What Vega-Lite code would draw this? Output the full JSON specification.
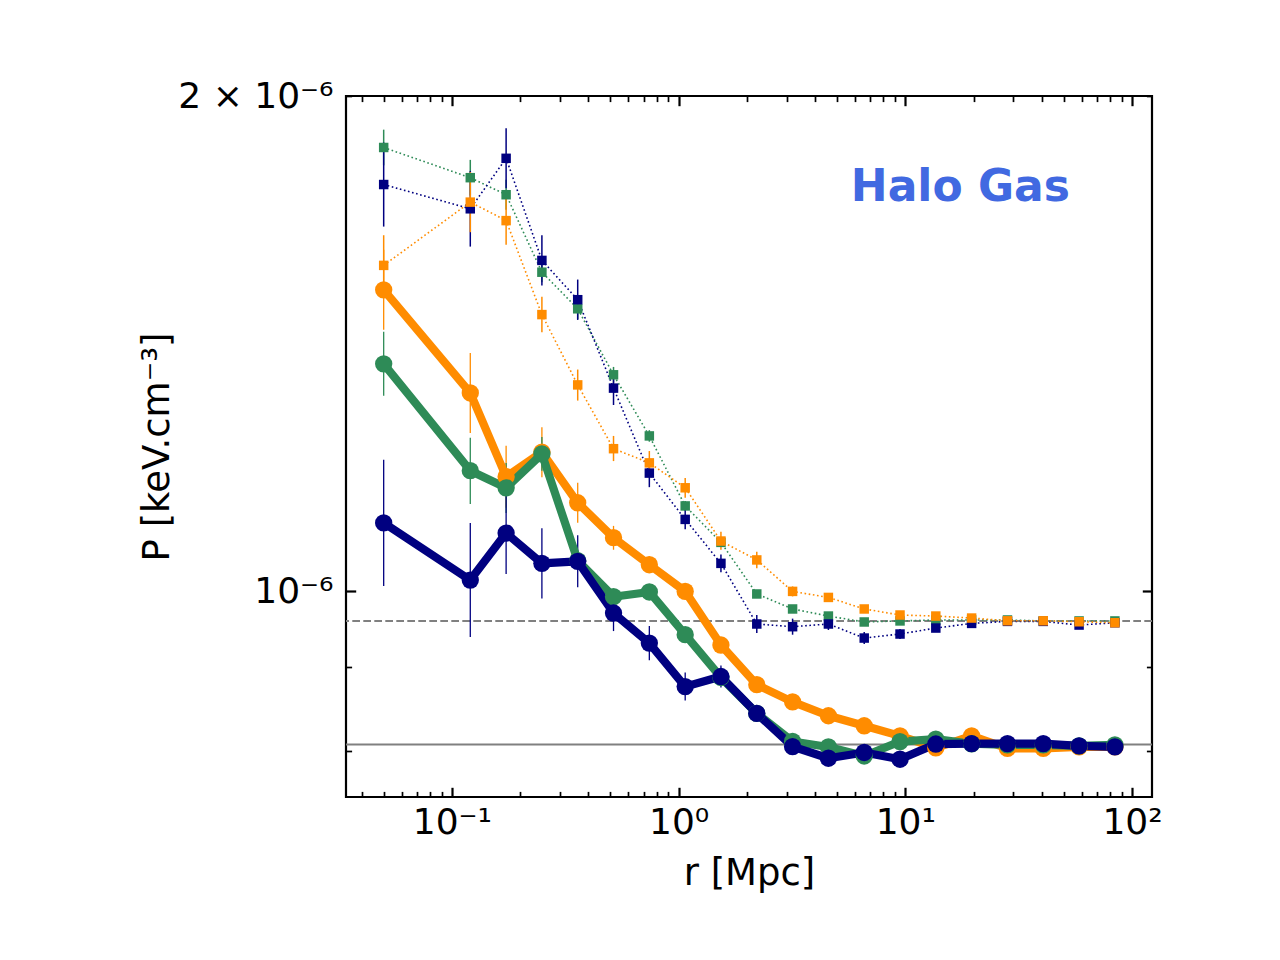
{
  "$schema": "https://vega.github.io/schema/vega-lite/v6.json",
  "autosize": {"type": "none"},
  "padding": {"left": 346, "top": 96, "right": 128, "bottom": 163},
  "width": 806,
  "height": 701,
  "background": "white",
  "config": {
    "font": "DejaVu Sans",
    "view": {"stroke": "black", "strokeWidth": 2.2},
    "axis": {"domain": false, "grid": false, "tickColor": "black", "labelColor": "black", "titleColor": "black", "titleFontWeight": "normal", "labelFlush": false, "labelOverlap": false, "labelBound": false}
  },
  "datasets": {
    "profiles": [
      {"r": 0.05, "P": 1.861e-6, "lo": 1.815e-6, "hi": 1.908e-6, "run": "B", "group": "g1"},
      {"r": 0.1205, "P": 1.784e-6, "lo": 1.740e-6, "hi": 1.829e-6, "run": "B", "group": "g1"},
      {"r": 0.1734, "P": 1.742e-6, "lo": 1.706e-6, "hi": 1.779e-6, "run": "B", "group": "g1"},
      {"r": 0.2494, "P": 1.563e-6, "lo": 1.541e-6, "hi": 1.585e-6, "run": "B", "group": "g1"},
      {"r": 0.3588, "P": 1.485e-6, "lo": 1.464e-6, "hi": 1.506e-6, "run": "B", "group": "g1"},
      {"r": 0.5162, "P": 1.354e-6, "lo": 1.339e-6, "hi": 1.369e-6, "run": "B", "group": "g1"},
      {"r": 0.7427, "P": 1.243e-6, "lo": 1.233e-6, "hi": 1.253e-6, "run": "B", "group": "g1"},
      {"r": 1.069, "P": 1.127e-6, "lo": 1.119e-6, "hi": 1.135e-6, "run": "B", "group": "g1"},
      {"r": 1.537, "P": 1.071e-6, "lo": 1.065e-6, "hi": 1.077e-6, "run": "B", "group": "g1"},
      {"r": 2.212, "P": 0.9964e-6, "lo": 0.9922e-6, "hi": 1.0006e-6, "run": "B", "group": "g1"},
      {"r": 3.182, "P": 0.9757e-6, "lo": 0.9716e-6, "hi": 0.9798e-6, "run": "B", "group": "g1"},
      {"r": 4.578, "P": 0.9661e-6, "lo": 0.9634e-6, "hi": 0.9688e-6, "run": "B", "group": "g1"},
      {"r": 6.587, "P": 0.9581e-6, "lo": 0.9554e-6, "hi": 0.9608e-6, "run": "B", "group": "g1"},
      {"r": 9.476, "P": 0.9595e-6, "lo": 0.9568e-6, "hi": 0.9622e-6, "run": "B", "group": "g1"},
      {"r": 13.63, "P": 0.9608e-6, "lo": 0.9581e-6, "hi": 0.9635e-6, "run": "B", "group": "g1"},
      {"r": 19.61, "P": 0.9608e-6, "lo": 0.9581e-6, "hi": 0.9635e-6, "run": "B", "group": "g1"},
      {"r": 28.22, "P": 0.9608e-6, "lo": 0.9581e-6, "hi": 0.9635e-6, "run": "B", "group": "g1"},
      {"r": 40.6, "P": 0.9595e-6, "lo": 0.9568e-6, "hi": 0.9622e-6, "run": "B", "group": "g1"},
      {"r": 58.41, "P": 0.9595e-6, "lo": 0.9568e-6, "hi": 0.9622e-6, "run": "B", "group": "g1"},
      {"r": 84.03, "P": 0.9595e-6, "lo": 0.9568e-6, "hi": 0.9622e-6, "run": "B", "group": "g1"},

      {"r": 0.05, "P": 1.767e-6, "lo": 1.666e-6, "hi": 1.874e-6, "run": "C", "group": "g1"},
      {"r": 0.1205, "P": 1.708e-6, "lo": 1.620e-6, "hi": 1.801e-6, "run": "C", "group": "g1"},
      {"r": 0.1734, "P": 1.833e-6, "lo": 1.758e-6, "hi": 1.912e-6, "run": "C", "group": "g1"},
      {"r": 0.2494, "P": 1.589e-6, "lo": 1.534e-6, "hi": 1.646e-6, "run": "C", "group": "g1"},
      {"r": 0.3588, "P": 1.504e-6, "lo": 1.462e-6, "hi": 1.547e-6, "run": "C", "group": "g1"},
      {"r": 0.5162, "P": 1.329e-6, "lo": 1.298e-6, "hi": 1.361e-6, "run": "C", "group": "g1"},
      {"r": 0.7427, "P": 1.180e-6, "lo": 1.157e-6, "hi": 1.203e-6, "run": "C", "group": "g1"},
      {"r": 1.069, "P": 1.106e-6, "lo": 1.091e-6, "hi": 1.122e-6, "run": "C", "group": "g1"},
      {"r": 1.537, "P": 1.040e-6, "lo": 1.027e-6, "hi": 1.053e-6, "run": "C", "group": "g1"},
      {"r": 2.212, "P": 0.9554e-6, "lo": 0.9435e-6, "hi": 0.9675e-6, "run": "C", "group": "g1"},
      {"r": 3.182, "P": 0.9518e-6, "lo": 0.9412e-6, "hi": 0.9626e-6, "run": "C", "group": "g1"},
      {"r": 4.578, "P": 0.9554e-6, "lo": 0.9474e-6, "hi": 0.9634e-6, "run": "C", "group": "g1"},
      {"r": 6.587, "P": 0.9368e-6, "lo": 0.9289e-6, "hi": 0.9447e-6, "run": "C", "group": "g1"},
      {"r": 9.476, "P": 0.9421e-6, "lo": 0.9355e-6, "hi": 0.9487e-6, "run": "C", "group": "g1"},
      {"r": 13.63, "P": 0.9500e-6, "lo": 0.9447e-6, "hi": 0.9553e-6, "run": "C", "group": "g1"},
      {"r": 19.61, "P": 0.9562e-6, "lo": 0.9522e-6, "hi": 0.9602e-6, "run": "C", "group": "g1"},
      {"r": 28.22, "P": 0.9589e-6, "lo": 0.9549e-6, "hi": 0.9629e-6, "run": "C", "group": "g1"},
      {"r": 40.6, "P": 0.9589e-6, "lo": 0.9549e-6, "hi": 0.9629e-6, "run": "C", "group": "g1"},
      {"r": 58.41, "P": 0.9540e-6, "lo": 0.9500e-6, "hi": 0.9580e-6, "run": "C", "group": "g1"},
      {"r": 84.03, "P": 0.9571e-6, "lo": 0.9531e-6, "hi": 0.9611e-6, "run": "C", "group": "g1"},

      {"r": 0.05, "P": 1.578e-6, "lo": 1.513e-6, "hi": 1.646e-6, "run": "A", "group": "g1"},
      {"r": 0.1205, "P": 1.724e-6, "lo": 1.653e-6, "hi": 1.798e-6, "run": "A", "group": "g1"},
      {"r": 0.1734, "P": 1.680e-6, "lo": 1.624e-6, "hi": 1.737e-6, "run": "A", "group": "g1"},
      {"r": 0.2494, "P": 1.473e-6, "lo": 1.437e-6, "hi": 1.510e-6, "run": "A", "group": "g1"},
      {"r": 0.3588, "P": 1.335e-6, "lo": 1.306e-6, "hi": 1.364e-6, "run": "A", "group": "g1"},
      {"r": 0.5162, "P": 1.221e-6, "lo": 1.200e-6, "hi": 1.243e-6, "run": "A", "group": "g1"},
      {"r": 0.7427, "P": 1.197e-6, "lo": 1.177e-6, "hi": 1.217e-6, "run": "A", "group": "g1"},
      {"r": 1.069, "P": 1.156e-6, "lo": 1.140e-6, "hi": 1.172e-6, "run": "A", "group": "g1"},
      {"r": 1.537, "P": 1.073e-6, "lo": 1.060e-6, "hi": 1.087e-6, "run": "A", "group": "g1"},
      {"r": 2.212, "P": 1.045e-6, "lo": 1.033e-6, "hi": 1.057e-6, "run": "A", "group": "g1"},
      {"r": 3.182, "P": 1.000e-6, "lo": 0.993e-6, "hi": 1.007e-6, "run": "A", "group": "g1"},
      {"r": 4.578, "P": 0.9916e-6, "lo": 0.9860e-6, "hi": 0.9972e-6, "run": "A", "group": "g1"},
      {"r": 6.587, "P": 0.9757e-6, "lo": 0.9716e-6, "hi": 0.9798e-6, "run": "A", "group": "g1"},
      {"r": 9.476, "P": 0.9675e-6, "lo": 0.9634e-6, "hi": 0.9716e-6, "run": "A", "group": "g1"},
      {"r": 13.63, "P": 0.9661e-6, "lo": 0.9634e-6, "hi": 0.9688e-6, "run": "A", "group": "g1"},
      {"r": 19.61, "P": 0.9634e-6, "lo": 0.9607e-6, "hi": 0.9661e-6, "run": "A", "group": "g1"},
      {"r": 28.22, "P": 0.9597e-6, "lo": 0.9570e-6, "hi": 0.9624e-6, "run": "A", "group": "g1"},
      {"r": 40.6, "P": 0.9597e-6, "lo": 0.9570e-6, "hi": 0.9624e-6, "run": "A", "group": "g1"},
      {"r": 58.41, "P": 0.9584e-6, "lo": 0.9557e-6, "hi": 0.9611e-6, "run": "A", "group": "g1"},
      {"r": 84.03, "P": 0.9571e-6, "lo": 0.9544e-6, "hi": 0.9598e-6, "run": "A", "group": "g1"},

      {"r": 0.05, "P": 1.525e-6, "lo": 1.442e-6, "hi": 1.613e-6, "run": "A", "group": "g2"},
      {"r": 0.1205, "P": 1.320e-6, "lo": 1.248e-6, "hi": 1.396e-6, "run": "A", "group": "g2"},
      {"r": 0.1734, "P": 1.174e-6, "lo": 1.124e-6, "hi": 1.226e-6, "run": "A", "group": "g2"},
      {"r": 0.2494, "P": 1.215e-6, "lo": 1.173e-6, "hi": 1.258e-6, "run": "A", "group": "g2"},
      {"r": 0.3588, "P": 1.132e-6, "lo": 1.101e-6, "hi": 1.164e-6, "run": "A", "group": "g2"},
      {"r": 0.5162, "P": 1.078e-6, "lo": 1.060e-6, "hi": 1.096e-6, "run": "A", "group": "g2"},
      {"r": 0.7427, "P": 1.038e-6, "lo": 1.026e-6, "hi": 1.050e-6, "run": "A", "group": "g2"},
      {"r": 1.069, "P": 1.000e-6, "lo": 0.992e-6, "hi": 1.008e-6, "run": "A", "group": "g2"},
      {"r": 1.537, "P": 0.9277e-6, "lo": 0.9225e-6, "hi": 0.9329e-6, "run": "A", "group": "g2"},
      {"r": 2.212, "P": 0.8776e-6, "lo": 0.8739e-6, "hi": 0.8813e-6, "run": "A", "group": "g2"},
      {"r": 3.182, "P": 0.8568e-6, "lo": 0.8532e-6, "hi": 0.8604e-6, "run": "A", "group": "g2"},
      {"r": 4.578, "P": 0.8403e-6, "lo": 0.8368e-6, "hi": 0.8438e-6, "run": "A", "group": "g2"},
      {"r": 6.587, "P": 0.8286e-6, "lo": 0.8263e-6, "hi": 0.8309e-6, "run": "A", "group": "g2"},
      {"r": 9.476, "P": 0.8170e-6, "lo": 0.8147e-6, "hi": 0.8193e-6, "run": "A", "group": "g2"},
      {"r": 13.63, "P": 0.8033e-6, "lo": 0.8011e-6, "hi": 0.8055e-6, "run": "A", "group": "g2"},
      {"r": 19.61, "P": 0.8170e-6, "lo": 0.8147e-6, "hi": 0.8193e-6, "run": "A", "group": "g2"},
      {"r": 28.22, "P": 0.8028e-6, "lo": 0.8006e-6, "hi": 0.8050e-6, "run": "A", "group": "g2"},
      {"r": 40.6, "P": 0.8028e-6, "lo": 0.8006e-6, "hi": 0.8050e-6, "run": "A", "group": "g2"},
      {"r": 58.41, "P": 0.8044e-6, "lo": 0.8022e-6, "hi": 0.8066e-6, "run": "A", "group": "g2"},
      {"r": 84.03, "P": 0.8044e-6, "lo": 0.8022e-6, "hi": 0.8066e-6, "run": "A", "group": "g2"},

      {"r": 0.05, "P": 1.375e-6, "lo": 1.315e-6, "hi": 1.438e-6, "run": "B", "group": "g2"},
      {"r": 0.1205, "P": 1.184e-6, "lo": 1.130e-6, "hi": 1.240e-6, "run": "B", "group": "g2"},
      {"r": 0.1734, "P": 1.156e-6, "lo": 1.116e-6, "hi": 1.197e-6, "run": "B", "group": "g2"},
      {"r": 0.2494, "P": 1.212e-6, "lo": 1.184e-6, "hi": 1.241e-6, "run": "B", "group": "g2"},
      {"r": 0.3588, "P": 1.044e-6, "lo": 1.030e-6, "hi": 1.059e-6, "run": "B", "group": "g2"},
      {"r": 0.5162, "P": 0.9926e-6, "lo": 0.9857e-6, "hi": 0.9995e-6, "run": "B", "group": "g2"},
      {"r": 0.7427, "P": 0.9992e-6, "lo": 0.9936e-6, "hi": 1.0048e-6, "run": "B", "group": "g2"},
      {"r": 1.069, "P": 0.9412e-6, "lo": 0.9359e-6, "hi": 0.9465e-6, "run": "B", "group": "g2"},
      {"r": 1.537, "P": 0.8865e-6, "lo": 0.8815e-6, "hi": 0.8915e-6, "run": "B", "group": "g2"},
      {"r": 2.212, "P": 0.8430e-6, "lo": 0.8395e-6, "hi": 0.8465e-6, "run": "B", "group": "g2"},
      {"r": 3.182, "P": 0.8106e-6, "lo": 0.8072e-6, "hi": 0.8140e-6, "run": "B", "group": "g2"},
      {"r": 4.578, "P": 0.8044e-6, "lo": 0.8010e-6, "hi": 0.8078e-6, "run": "B", "group": "g2"},
      {"r": 6.587, "P": 0.7943e-6, "lo": 0.7921e-6, "hi": 0.7965e-6, "run": "B", "group": "g2"},
      {"r": 9.476, "P": 0.8105e-6, "lo": 0.8082e-6, "hi": 0.8128e-6, "run": "B", "group": "g2"},
      {"r": 13.63, "P": 0.8132e-6, "lo": 0.8109e-6, "hi": 0.8155e-6, "run": "B", "group": "g2"},
      {"r": 19.61, "P": 0.8080e-6, "lo": 0.8057e-6, "hi": 0.8103e-6, "run": "B", "group": "g2"},
      {"r": 28.22, "P": 0.8067e-6, "lo": 0.8044e-6, "hi": 0.8090e-6, "run": "B", "group": "g2"},
      {"r": 40.6, "P": 0.8067e-6, "lo": 0.8044e-6, "hi": 0.8090e-6, "run": "B", "group": "g2"},
      {"r": 58.41, "P": 0.8056e-6, "lo": 0.8033e-6, "hi": 0.8079e-6, "run": "B", "group": "g2"},
      {"r": 84.03, "P": 0.8067e-6, "lo": 0.8044e-6, "hi": 0.8090e-6, "run": "B", "group": "g2"},

      {"r": 0.05, "P": 1.1005e-6, "lo": 1.0075e-6, "hi": 1.2021e-6, "run": "C", "group": "g2"},
      {"r": 0.1205, "P": 1.016e-6, "lo": 0.9381e-6, "hi": 1.1004e-6, "run": "C", "group": "g2"},
      {"r": 0.1734, "P": 1.085e-6, "lo": 1.0245e-6, "hi": 1.1492e-6, "run": "C", "group": "g2"},
      {"r": 0.2494, "P": 1.040e-6, "lo": 0.9902e-6, "hi": 1.0923e-6, "run": "C", "group": "g2"},
      {"r": 0.3588, "P": 1.043e-6, "lo": 1.0058e-6, "hi": 1.0817e-6, "run": "C", "group": "g2"},
      {"r": 0.5162, "P": 0.9702e-6, "lo": 0.9460e-6, "hi": 0.9949e-6, "run": "C", "group": "g2"},
      {"r": 0.7427, "P": 0.9302e-6, "lo": 0.9083e-6, "hi": 0.9526e-6, "run": "C", "group": "g2"},
      {"r": 1.069, "P": 0.8753e-6, "lo": 0.8583e-6, "hi": 0.8926e-6, "run": "C", "group": "g2"},
      {"r": 1.537, "P": 0.8877e-6, "lo": 0.8741e-6, "hi": 0.9015e-6, "run": "C", "group": "g2"},
      {"r": 2.212, "P": 0.8430e-6, "lo": 0.8377e-6, "hi": 0.8483e-6, "run": "C", "group": "g2"},
      {"r": 3.182, "P": 0.8048e-6, "lo": 0.8014e-6, "hi": 0.8082e-6, "run": "C", "group": "g2"},
      {"r": 4.578, "P": 0.7918e-6, "lo": 0.7885e-6, "hi": 0.7951e-6, "run": "C", "group": "g2"},
      {"r": 6.587, "P": 0.7982e-6, "lo": 0.7948e-6, "hi": 0.8016e-6, "run": "C", "group": "g2"},
      {"r": 9.476, "P": 0.7907e-6, "lo": 0.7874e-6, "hi": 0.7940e-6, "run": "C", "group": "g2"},
      {"r": 13.63, "P": 0.8077e-6, "lo": 0.8043e-6, "hi": 0.8111e-6, "run": "C", "group": "g2"},
      {"r": 19.61, "P": 0.8082e-6, "lo": 0.8059e-6, "hi": 0.8105e-6, "run": "C", "group": "g2"},
      {"r": 28.22, "P": 0.8082e-6, "lo": 0.8059e-6, "hi": 0.8105e-6, "run": "C", "group": "g2"},
      {"r": 40.6, "P": 0.8082e-6, "lo": 0.8059e-6, "hi": 0.8105e-6, "run": "C", "group": "g2"},
      {"r": 58.41, "P": 0.8056e-6, "lo": 0.8033e-6, "hi": 0.8079e-6, "run": "C", "group": "g2"},
      {"r": 84.03, "P": 0.8044e-6, "lo": 0.8022e-6, "hi": 0.8066e-6, "run": "C", "group": "g2"}
    ],
    "refs": [
      {"level": "upper", "P": 0.9594e-6},
      {"level": "lower", "P": 0.8071e-6}
    ],
    "notes": [
      {"r": 17.5, "P": 1.758e-6, "label": "Halo Gas"}
    ]
  },
  "resolve": {"axis": {"x": "independent", "y": "independent"}},
  "layer": [
    {
      "data": {"name": "refs"},
      "mark": {"type": "rule", "color": "#808080", "strokeWidth": 2.1},
      "encoding": {
        "y": {"field": "P", "type": "quantitative", "scale": {"type": "log", "domain": [7.5e-7, 2e-6], "nice": false}, "axis": null},
        "strokeDash": {"field": "level", "type": "nominal", "scale": {"domain": ["upper", "lower"], "range": [[7.7, 3.3], [1, 0]]}, "legend": null}
      }
    },
    {
      "data": {"name": "profiles"},
      "transform": [{"filter": "datum.group == 'g1'"}],
      "mark": {"type": "rule", "strokeWidth": 1.5},
      "encoding": {
        "x": {"field": "r", "type": "quantitative", "scale": {"type": "log", "domain": [0.0341, 122.5], "nice": false},
              "axis": {"orient": "bottom", "values": [0.04, 0.05, 0.06, 0.07, 0.08, 0.09, 0.2, 0.3, 0.4, 0.5, 0.6, 0.7, 0.8, 0.9, 2, 3, 4, 5, 6, 7, 8, 9, 20, 30, 40, 50, 60, 70, 80, 90], "labels": false, "tickSize": -5.6, "tickWidth": 1.7, "title": null}},
        "y": {"field": "lo", "type": "quantitative",
              "axis": {"orient": "left", "values": [8e-7, 9e-7, 2e-6], "labels": false, "tickSize": -5.6, "tickWidth": 1.7, "title": null}},
        "y2": {"field": "hi"},
        "color": {"field": "run", "type": "nominal", "scale": {"domain": ["A", "B", "C"], "range": ["#ff8c00", "#2e8b57", "#000080"]}, "legend": null}
      }
    },
    {
      "data": {"name": "profiles"},
      "transform": [{"filter": "datum.group == 'g1'"}],
      "mark": {"type": "line", "strokeWidth": 1.6, "strokeDash": [1.6, 2.6]},
      "encoding": {
        "x": {"field": "r", "type": "quantitative",
              "axis": {"orient": "top", "values": [0.1, 1, 10, 100], "labels": false, "tickSize": -9.7, "tickWidth": 2.2, "title": null}},
        "y": {"field": "P", "type": "quantitative",
              "axis": {"orient": "right", "values": [1e-6], "labels": false, "tickSize": -9.7, "tickWidth": 2.2, "title": null}},
        "color": {"field": "run", "type": "nominal", "legend": null}
      }
    },
    {
      "data": {"name": "profiles"},
      "transform": [{"filter": "datum.group == 'g1'"}],
      "mark": {"type": "point", "shape": "square", "filled": true, "size": 90, "opacity": 1},
      "encoding": {
        "x": {"field": "r", "type": "quantitative",
              "axis": {"orient": "top", "values": [0.04, 0.05, 0.06, 0.07, 0.08, 0.09, 0.2, 0.3, 0.4, 0.5, 0.6, 0.7, 0.8, 0.9, 2, 3, 4, 5, 6, 7, 8, 9, 20, 30, 40, 50, 60, 70, 80, 90], "labels": false, "tickSize": -5.6, "tickWidth": 1.7, "title": null}},
        "y": {"field": "P", "type": "quantitative",
              "axis": {"orient": "right", "values": [8e-7, 9e-7, 2e-6], "labels": false, "tickSize": -5.6, "tickWidth": 1.7, "title": null}},
        "color": {"field": "run", "type": "nominal", "legend": null}
      }
    },
    {
      "data": {"name": "profiles"},
      "transform": [{"filter": "datum.group == 'g2'"}],
      "mark": {"type": "rule", "strokeWidth": 1.3},
      "encoding": {
        "x": {"field": "r", "type": "quantitative",
              "axis": {"orient": "bottom", "values": [0.1, 1, 10, 100], "labels": false, "tickSize": -9.7, "tickWidth": 2.2, "title": null}},
        "y": {"field": "lo", "type": "quantitative",
              "axis": {"orient": "left", "values": [1e-6], "labels": false, "tickSize": -9.7, "tickWidth": 2.2, "title": null}},
        "y2": {"field": "hi"},
        "color": {"field": "run", "type": "nominal", "legend": null}
      }
    },
    {
      "data": {"name": "profiles"},
      "transform": [{"filter": "datum.group == 'g2'"}],
      "mark": {"type": "line", "strokeWidth": 8.2, "strokeJoin": "round", "strokeCap": "round"},
      "encoding": {
        "x": {"field": "r", "type": "quantitative", "axis": null},
        "y": {"field": "P", "type": "quantitative", "axis": null},
        "color": {"field": "run", "type": "nominal", "legend": null}
      }
    },
    {
      "data": {"name": "profiles"},
      "transform": [{"filter": "datum.group == 'g2'"}],
      "mark": {"type": "circle", "size": 300, "opacity": 1},
      "encoding": {
        "x": {"field": "r", "type": "quantitative",
              "axis": {"orient": "bottom", "values": [0.1, 1, 10, 100], "ticks": false, "labelFontSize": 36, "labelPadding": 8,
                       "labelExpr": "datum.value < 0.5 ? '10⁻¹' : datum.value < 5 ? '10⁰' : datum.value < 50 ? '10¹' : '10²'",
                       "title": "r [Mpc]", "titleFontSize": 37, "titleBaseline": "alphabetic", "titleY": 87}},
        "y": {"field": "P", "type": "quantitative",
              "axis": {"orient": "left", "values": [1e-6, 2e-6], "ticks": false, "labelFontSize": 36, "labelPadding": 13,
                       "labelExpr": "datum.value > 1.5e-6 ? '2 × 10⁻⁶' : '10⁻⁶'",
                       "title": "P [keV.cm⁻³]", "titleFontSize": 37, "titleBaseline": "alphabetic", "titleX": -178}},
        "color": {"field": "run", "type": "nominal", "legend": null}
      }
    },
    {
      "data": {"name": "notes"},
      "mark": {"type": "text", "fontSize": 44, "fontWeight": "bold", "color": "#4169e1", "align": "center", "baseline": "middle"},
      "encoding": {
        "x": {"field": "r", "type": "quantitative", "axis": null},
        "y": {"field": "P", "type": "quantitative", "axis": null},
        "text": {"field": "label"}
      }
    }
  ]
}
